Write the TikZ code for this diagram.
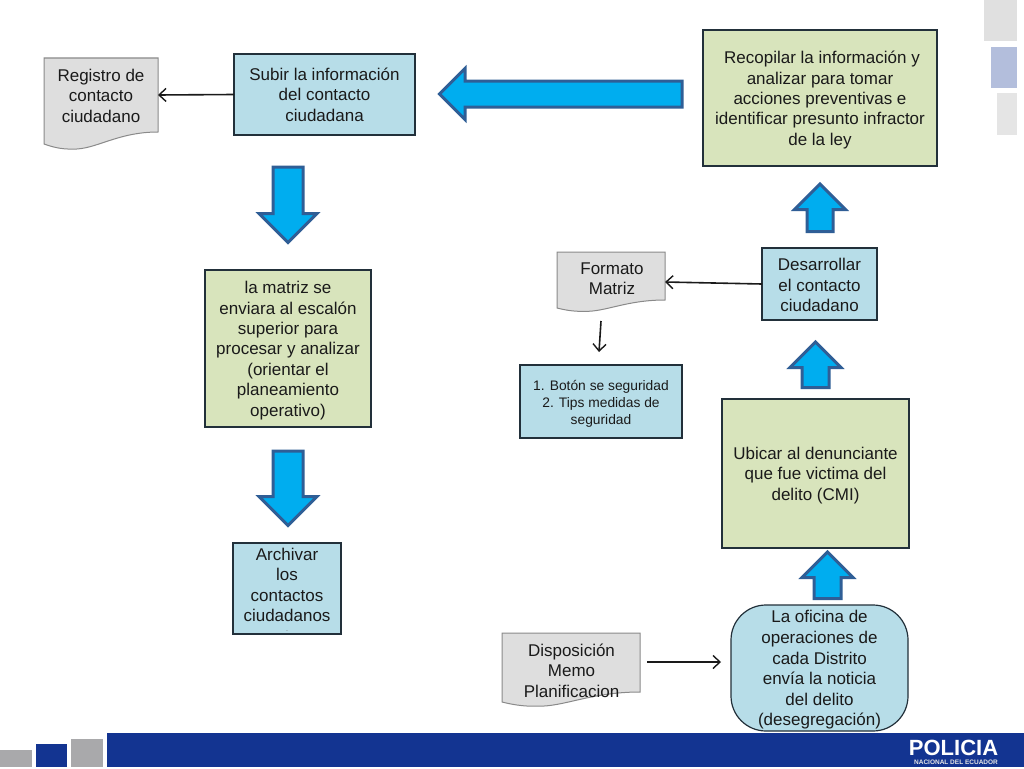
\documentclass[tikz,border=0pt]{standalone}
\usepackage{fontspec}
\setmainfont{Liberation Sans}
\usetikzlibrary{shapes.arrows,arrows.meta,calc}
\definecolor{boxblue}{HTML}{B7DDE8}
\definecolor{boxgreen}{HTML}{D8E4BC}
\definecolor{docgray}{HTML}{DEDEDE}
\definecolor{docline}{HTML}{8A8A8A}
\definecolor{boxline}{HTML}{22303A}
\definecolor{inktext}{HTML}{1A1A1A}
\definecolor{arrowfill}{HTML}{00ADEF}
\definecolor{arrowline}{HTML}{2F5E96}
\definecolor{bandblue}{HTML}{133491}
\definecolor{squaregray}{HTML}{A9A9AB}
\newcommand{\tl}[1]{\rule{0pt}{#1pt}}
\tikzset{
  x=1pt,y=-1pt,
  bodytext/.style={font=\fontsize{17}{20.45}\selectfont,text=inktext,align=center,inner sep=0pt,outer sep=0pt},
  sizedbox/.style n args={2}{minimum width=#1,minimum height=#2},
  bluebox/.style={bodytext,draw=boxline,line width=1.2pt,fill=boxblue},
  greenbox/.style={bodytext,draw=boxline,line width=1.2pt,fill=boxgreen},
  docbox/.style={bodytext},
  blockarrow/.style={single arrow,draw=arrowline,line width=3pt,fill=arrowfill,outer sep=0pt,single arrow tip angle=90,anchor=tip},
  link/.style={draw=inktext,line width=1.6pt,-{Straight Barb[length=7pt,width=13pt,line width=1.4pt]}},
  flat/.style={draw=none,inner sep=0pt,outer sep=0pt},
}
% node name, width, left-edge drop
\newcommand{\docwave}[3]{%
  \draw[fill=docgray,draw=docline,line width=1pt]
    (#1.north west) -- (#1.north east) -- (#1.south east)
    .. controls ($(#1.south east)+(-0.36*#2,0)$) and ($(#1.south east)+(-0.55*#2,1.5*#3)$)
    .. ($(#1.south east)+(-0.75*#2,1.42*#3)$)
    .. controls ($(#1.south west)+(0.14*#2,1.45*#3)$) and ($(#1.south west)+(0.06*#2,1.2*#3)$)
    .. ($(#1.south west)+(0,#3)$) -- cycle;}
\begin{document}
\begin{tikzpicture}
\useasboundingbox (0,0) rectangle (1024,768);
\fill[white] (0,0) rectangle (1024,768);

% decoration
\node[flat,fill=bandblue,minimum width=917,minimum height=34] (band) at (565.5,750) {};
\node[flat,fill=squaregray,minimum width=32,minimum height=17] (sqa) at (16,758.5) {};
\node[flat,fill=bandblue,minimum width=31,minimum height=23] (sqb) at (51.5,755.5) {};
\node[flat,fill=squaregray,minimum width=32,minimum height=28] (sqc) at (87,753) {};
\node[flat,fill=black!12,minimum width=33,minimum height=41] (sqd) at (1000.5,20.5) {};
\node[flat,fill=bandblue!32,minimum width=26,minimum height=41] (sqe) at (1004,67.5) {};
\node[flat,fill=black!10,minimum width=20,minimum height=42] (sqf) at (1007,114) {};
\node[flat,text=white,font=\fontsize{22}{22}\bfseries\selectfont] (pol) at (953.5,747.5) {POLICIA};
\node[flat,text=white!90!black,font=\fontsize{6.5}{7}\bfseries\selectfont] (nac) at (956,762.5) {NACIONAL DEL ECUADOR};

% boxes
\node[greenbox,sizedbox={234}{136}] (rec) at (820,98) {\tl{16.5}\hspace*{4pt}Recopilar la información y\\analizar para tomar\\acciones preventivas e\\identificar presunto infractor\\de la ley};
\node[bluebox,sizedbox={181}{81}] (sub) at (324.5,94.5) {Subir la información\\del contacto\\ciudadana};
\node[greenbox,sizedbox={166}{157}] (mat) at (288,348.5) {\tl{16.5}la matriz se\\enviara al escalón\\superior para\\procesar y analizar\\(orientar el\\planeamiento\\operativo)};
\node[bluebox,sizedbox={108}{91}] (arc) at (287,588.5) {};
\node[bodytext] (arctxt) at (287,585) {Archivar\\los\\contactos\\ciudadanos};
\node[bodytext,font=\fontsize{7}{8}\selectfont,text=black!60] (arcdot) at (287,631) {.};
\node[bluebox,sizedbox={115}{72}] (des) at (819.5,284) {\tl{15}Desarrollar\\el contacto\\ciudadano};
\node[bluebox,sizedbox={162}{73},font=\fontsize{13.8}{17}\selectfont] (bot) at (601,401.5) {\tl{14}1. Botón se seguridad\\2. Tips medidas de\\seguridad};
\node[greenbox,sizedbox={187}{149}] (ubi) at (815.5,473.5) {\tl{16.5}Ubicar al denunciante\\que fue victima del\\delito (CMI)};
\node[bluebox,rounded corners=35pt,sizedbox={177}{126},font=\fontsize{17}{20.6}\selectfont] (ofi) at (819.5,668) {\tl{16.5}La oficina de\\operaciones de\\cada Distrito\\envía la noticia\\del delito\\(desegregación)};

% document shapes
\node[docbox,sizedbox={114}{74}] (reg) at (101,95) {};
\docwave{reg}{114}{12}
\node[bodytext] (regtxt) at (101,95.7) {Registro de\\contacto\\ciudadano};
\node[docbox,sizedbox={108}{48}] (for) at (611,276) {};
\docwave{for}{108}{8}
\node[bodytext] (fortxt) at (612,278.7) {Formato\\Matriz};
\node[docbox,sizedbox={138}{59}] (dis) at (571,662.5) {};
\docwave{dis}{138}{10}
\node[bodytext] (distxt) at (571.5,670.7) {Disposición\\Memo\\Planificacion};

% block arrows
\node[blockarrow,inner xsep=0pt,inner ysep=11.5pt,minimum height=242.5,single arrow head extend=12.5,shape border rotate=180] (ba) at (439.5,94) {};
\node[blockarrow,inner ysep=0pt,inner xsep=13.5pt,minimum height=75.5,single arrow head extend=14,shape border rotate=270] (bb) at (288,242.5) {};
\node[blockarrow,inner ysep=0pt,inner xsep=13.5pt,minimum height=74.5,single arrow head extend=14,shape border rotate=270] (bc) at (288,525.5) {};
\node[blockarrow,inner ysep=0pt,inner xsep=11.5pt,minimum height=47.5,single arrow head extend=12.5,shape border rotate=90] (bd) at (820,184) {};
\node[blockarrow,inner ysep=0pt,inner xsep=12pt,minimum height=45.5,single arrow head extend=12,shape border rotate=90] (be) at (815.5,342) {};
\node[blockarrow,inner ysep=0pt,inner xsep=12pt,minimum height=46.5,single arrow head extend=12,shape border rotate=90] (bf) at (827.5,552) {};

% connectors
\coordinate (fa) at (601,321);
\coordinate (fb) at (599,352);
\coordinate (dstart) at (647,662);
\coordinate (dend) at (721,662);
\draw[link] (sub.west) -- (reg.east);
\draw[link] (des.west) -- ([yshift=-6pt]for.east);
\draw[link] (fa) -- (fb);
\draw[link] (dstart) -- (dend);
\end{tikzpicture}
\end{document}
